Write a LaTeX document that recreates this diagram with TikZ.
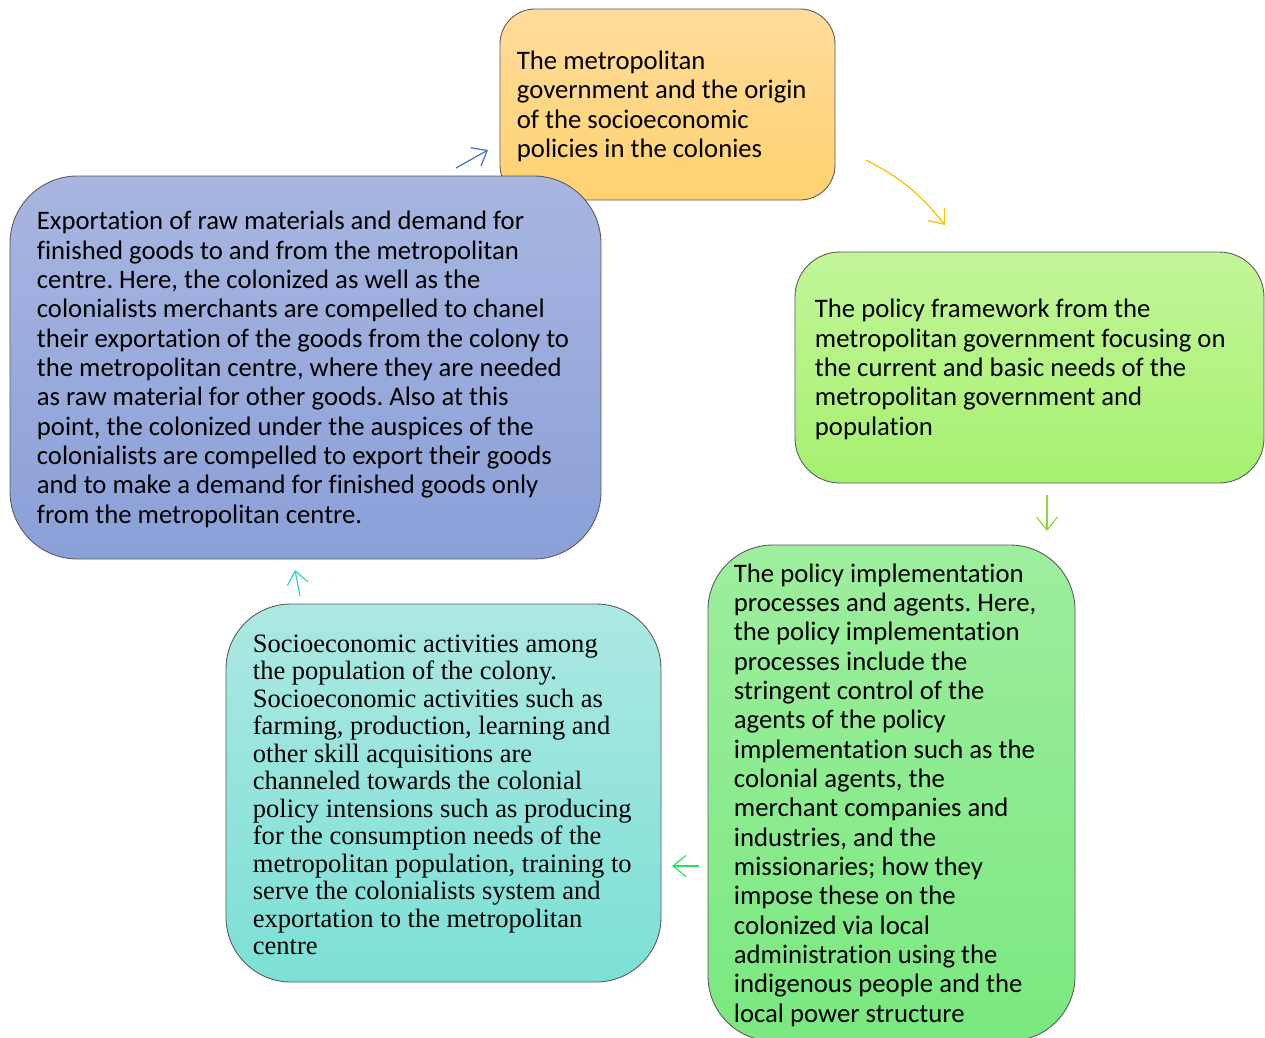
\documentclass[tikz,border=0pt]{standalone}
\usepackage{fontspec}
\setmainfont{Carlito}[Ligatures=NoCommon]
\newfontfamily\timesbox{Liberation Serif}
\usetikzlibrary{arrows.meta}
\definecolor{boxEdge}{RGB}{90,90,90}
\definecolor{goldTop}{RGB}{255,220,155}
\definecolor{goldBot}{RGB}{255,210,112}
\definecolor{blueTop}{RGB}{168,182,224}
\definecolor{blueBot}{RGB}{138,160,216}
\definecolor{limeTop}{RGB}{194,246,152}
\definecolor{limeBot}{RGB}{166,240,112}
\definecolor{mintTop}{RGB}{158,238,158}
\definecolor{mintBot}{RGB}{122,232,128}
\definecolor{tealTop}{RGB}{172,232,226}
\definecolor{tealBot}{RGB}{124,224,214}
\definecolor{arrBlue}{RGB}{68,114,196}
\definecolor{arrGold}{RGB}{255,192,0}
\definecolor{arrLime}{RGB}{140,215,60}
\definecolor{arrGreen}{RGB}{40,225,95}
\definecolor{arrTeal}{RGB}{50,212,200}
\newcommand{\px}{0.02cm}
\frenchspacing

\begin{document}
\begin{tikzpicture}[x=0.02cm,y=-0.02cm,
    stage/.style={draw=boxEdge,line width=0.5pt,inner sep=0pt},
    stagetext/.style={anchor=west,align=left,inner sep=0pt,yshift=-2*\px,
      font=\fontsize{15.2}{16.7}\selectfont},
    flow/.style={line width=0.7pt,-{Straight Barb[length=0.26cm,width=0.42cm]}}]
  \useasboundingbox (0,0) rectangle (1265,1038);
  % ---- boxes
  \node[stage,rounded corners=0.7cm,top color=goldTop,bottom color=goldBot,
        minimum width=335*\px,minimum height=191*\px] (govBox) at (667.5,104.5) {};
  \node[stagetext] (govText) at ([xshift=17*\px]govBox.west)
      {The metropolitan\\government and the origin\\of the socioeconomic\\policies in the colonies};
  \node[stage,rounded corners=1.35cm,top color=blueTop,bottom color=blueBot,
        minimum width=591*\px,minimum height=383*\px] (exportBox) at (305.5,367.5) {};
  \node[stagetext] (exportText) at ([xshift=27*\px]exportBox.west)
      {Exportation of raw materials and demand for\\finished goods to and from the metropolitan\\centre. Here, the colonized as well as the\\colonialists merchants are compelled to chanel\\their exportation of the goods from the colony to\\the metropolitan centre, where they are needed\\as raw material for other goods. Also at this\\point, the colonized under the auspices of the\\colonialists are compelled to export their goods\\and to make a demand for finished goods only\\from the metropolitan centre.};
  \node[stage,rounded corners=0.9cm,top color=limeTop,bottom color=limeBot,
        minimum width=469*\px,minimum height=231*\px] (policyBox) at (1029.5,367.5) {};
  \node[stagetext] (policyText) at ([xshift=20*\px]policyBox.west)
      {The policy framework from the\\metropolitan government focusing on\\the current and basic needs of the\\metropolitan government and\\population};
  \node[stage,rounded corners=1.3cm,top color=mintTop,bottom color=mintBot,
        minimum width=367*\px,minimum height=496*\px] (agentBox) at (891.5,793) {};
  \node[stagetext] (agentText) at ([xshift=26*\px]agentBox.west)
      {The policy implementation\\processes and agents. Here,\\the policy implementation\\processes include the\\stringent control of the\\agents of the policy\\implementation such as the\\colonial agents, the\\merchant companies and\\industries, and the\\missionaries; how they\\impose these on the\\colonized via local\\administration using the\\indigenous people and the\\local power structure};
  \node[stage,rounded corners=1.3cm,top color=tealTop,bottom color=tealBot,
        minimum width=435*\px,minimum height=378*\px] (activityBox) at (443.5,793) {};
  \node[stagetext,font=\timesbox\fontsize{15.1}{15.65}\selectfont] (activityText)
      at ([xshift=27*\px]activityBox.west)
      {Socioeconomic activities among\\the population of the colony.\\Socioeconomic activities such as\\farming, production, learning and\\other skill acquisitions are\\channeled towards the colonial\\policy intensions such as producing\\for the consumption needs of the\\metropolitan population, training to\\serve the colonialists system and\\exportation to the metropolitan\\centre};
  % ---- arrows
  \coordinate (blueFrom) at (456,168);
  \coordinate (blueTo) at (488,150);
  \coordinate (goldFrom) at (866,160);
  \coordinate (goldTo) at (945,225);
  \coordinate (limeFrom) at (1047,495);
  \coordinate (limeTo) at (1047,531);
  \coordinate (greenFrom) at (699,866);
  \coordinate (greenTo) at (672,866);
  \coordinate (tealFrom) at (300,596);
  \coordinate (tealTo) at (295,570);
  \draw[flow,arrBlue] (blueFrom) -- (blueTo);
  \draw[flow,arrGold] (goldFrom) to[bend left=12] (goldTo);
  \draw[flow,arrLime] (limeFrom) -- (limeTo);
  \draw[flow,arrGreen] (greenFrom) -- (greenTo);
  \draw[flow,arrTeal] (tealFrom) -- (tealTo);
\end{tikzpicture}
\end{document}
